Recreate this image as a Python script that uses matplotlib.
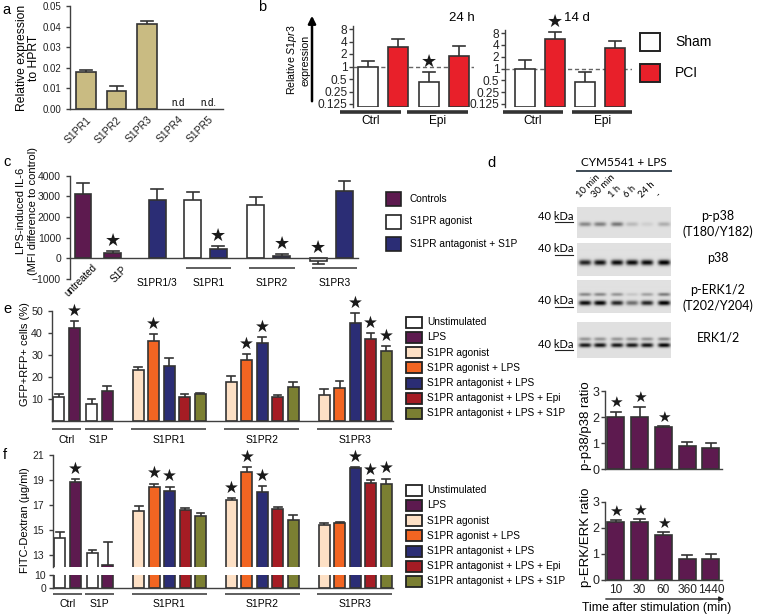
import numpy as np
import matplotlib
matplotlib.use("Agg")
import matplotlib.pyplot as plt
import matplotlib.transforms as mtransforms
from matplotlib.patches import Rectangle, FancyArrowPatch
from matplotlib.lines import Line2D

plt.rcParams['font.family'] = ['Liberation Sans', 'DejaVu Sans']
plt.rcParams['mathtext.fontset'] = 'custom'
plt.rcParams['mathtext.rm'] = 'Liberation Sans'
plt.rcParams['mathtext.it'] = 'Liberation Sans:italic'

# ---------------- data ----------------
# a : receptor expression
a_receptors = ["S1PR1", "S1PR2", "S1PR3", "S1PR4", "S1PR5"]
a_expr = [0.018, 0.0088, 0.0415]
a_err = [0.0008, 0.0022, 0.0012]
a_nd = ["n.d", "n.d."]

# b : S1pr3 expression (order: Ctrl sham, Ctrl PCI, Epi sham, Epi PCI)
b_groups = ["Ctrl", "Epi"]
b_24h = [1.0, 3.0, 0.42, 1.75]
b_24h_err = [0.35, 1.6, 0.3, 1.35]
b_24h_stars = [2]
b_14d = [1.0, 5.6, 0.46, 3.3]
b_14d_err = [0.6, 2.7, 0.34, 1.8]
b_14d_stars = [1]
b_yticks = [0.125, 0.25, 0.5, 1, 2, 4, 8]
b_legend = ["Sham", "PCI"]

# c : LPS-induced IL-6
c_labels = ["untreated", "S1P", "S1PR1/3", "S1PR1", "S1PR2", "S1PR3"]
c_vals = [3100, 280, 2830, 2800, 430, 2560, 100, -150, 3280]
c_errs = [550, 80, 550, 400, 170, 420, 100, 130, 470]
c_kind = ["ctrl", "ctrl", "ant", "ago", "ant", "ago", "ant", "ago", "ant"]
c_stars = [1, 4, 6, 7]
c_legend = ["Controls", "S1PR agonist", "S1PR antagonist + S1P"]

# e / f : treatment groups
ef_groups = ["Ctrl", "S1P", "S1PR1", "S1PR2", "S1PR3"]
ef_legend = ["Unstimulated", "LPS", "S1PR agonist", "S1PR agonist + LPS",
             "S1PR antagonist + LPS", "S1PR antagonist + LPS + Epi",
             "S1PR antagonist + LPS + S1P"]
ef_kind = [0, 1, 0, 1] + [2, 3, 4, 5, 6] * 3

e_vals = [11.0, 42.3, 7.6, 13.6,
          23.1, 36.1, 25.0, 10.8, 12.1,
          17.8, 27.7, 35.5, 10.8, 15.3,
          11.8, 14.8, 44.3, 37.3, 31.7]
e_errs = [1.2, 3.0, 2.4, 2.4,
          1.5, 3.2, 3.7, 1.3, 0.5,
          2.8, 2.7, 2.4, 1.0, 2.5,
          2.7, 3.4, 4.5, 2.4, 2.3]
e_stars = [1, 5, 10, 11, 16, 17, 18]

f_vals = [14.3, 18.8, 13.15, 12.2,
          16.5, 18.4, 18.1, 16.6, 16.1,
          17.4, 19.6, 18.0, 16.7, 15.8,
          15.4, 15.5, 19.95, 18.75, 18.7]
f_errs = [0.5, 0.25, 0.25, 1.8,
          0.4, 0.3, 0.35, 0.15, 0.25,
          0.15, 0.45, 0.5, 0.1, 0.35,
          0.1, 0.15, 0.05, 0.25, 0.4]
f_stars = [1, 5, 6, 9, 10, 11, 16, 17, 18]

# d : western blot band intensities per lane and quantification
d_lanes = ["10 min", "30 min", "1 h", "6 h", "24 h", "-"]
pp38_band = [0.35, 0.38, 0.42, 0.15, 0.07, 0.2]
p38_band = [0.75, 0.82, 0.85, 0.85, 0.85, 0.9]
perk_upper = [0.35, 0.35, 0.3, 0.1, 0.25, 0.4]
perk_lower = [0.85, 0.88, 0.75, 0.45, 0.75, 0.9]
erk_upper = [0.3, 0.3, 0.3, 0.3, 0.3, 0.35]
erk_lower = [0.8, 0.82, 0.8, 0.8, 0.82, 0.88]
time_labels = ["10", "30", "60", "360", "1440"]
pp38_ratio = [2.0, 2.0, 1.6, 0.9, 0.8]
pp38_err = [0.2, 0.4, 0.06, 0.15, 0.2]
perk_ratio = [2.22, 2.22, 1.75, 0.8, 0.8]
perk_err = [0.08, 0.12, 0.1, 0.15, 0.2]
ratio_stars = [0, 1, 2]

# ---------------- style ----------------
EDGE = "#333333"
SPINE = "#404040"
TAN = "#c9bb82"
RED = "#e8202a"
PURPLE = "#5d1a4f"
BLUE = "#2b2d75"
ef_colors = ["white", PURPLE, "#fde0c5", "#f26522", BLUE, "#a51c24", "#7b7f32"]
c_colors = {"ctrl": PURPLE, "ago": "white", "ant": BLUE}

W, H = 764, 615
fig = plt.figure(figsize=(W / 100, H / 100), dpi=100)
px = mtransforms.Affine2D().scale(1.0 / W, -1.0 / H).translate(0, 1) + fig.transFigure


def px_axes(l, t, r, b):
    ax = fig.add_axes([l / W, 1 - b / H, (r - l) / W, (b - t) / H])
    for s in ["top", "right"]:
        ax.spines[s].set_visible(False)
    for s in ["left", "bottom"]:
        ax.spines[s].set_color(SPINE)
        ax.spines[s].set_linewidth(1)
    ax.tick_params(colors=SPINE, labelcolor="#222222", length=3, width=1)
    ax.patch.set_alpha(0)
    return ax


def xpx(ax):
    return mtransforms.blended_transform_factory(ax.transData, px)


def ftext(x, y, s, **kw):
    fig.text(x, y, s, transform=px, **kw)


def bars(ax, xs, vals, errs, colors, width, cap, stars=(), star_fs=12, bottom=0, lw=1.2):
    ax.bar(xs, [v - bottom for v in vals], width, bottom=bottom, color=colors,
           edgecolor=EDGE, linewidth=lw, zorder=2)
    for x, v, e in zip(xs, vals, errs):
        end = v + e if v >= 0 else v - e
        ax.plot([x, x], [v, end], color=EDGE, lw=lw, zorder=3, solid_capstyle="butt")
        ax.plot([x - cap, x + cap], [end, end], color=EDGE, lw=lw, zorder=3)
    for i in stars:
        top = vals[i] + errs[i] if vals[i] >= 0 else 0
        ax.annotate("\u2605", (xs[i], top), xytext=(0, 1), textcoords="offset points",
                    ha="center", va="bottom", fontsize=star_fs, color="#1a1a1a",
                    family="DejaVu Sans", annotation_clip=False)


def underline(ax, x0, x1, y, lw=1.2, color=EDGE):
    ax.plot([x0, x1], [y, y], transform=xpx(ax), color=color, lw=lw, clip_on=False,
            solid_capstyle="butt")


# ---------------- panel a ----------------
ax = px_axes(70, 6, 223, 109)
xa = np.arange(len(a_receptors))
bars(ax, xa[:3], a_expr, a_err, TAN, 0.65, 0.2)
ax.set_xlim(-0.52, 4.48)
ax.set_ylim(0, 0.05)
ax.set_yticks([0, 0.01, 0.02, 0.03, 0.04, 0.05])
ax.set_yticklabels(["0.00", "0.01", "0.02", "0.03", "0.04", "0.05"], fontsize=7)
ax.set_xticks(xa)
ax.set_xticklabels(a_receptors, rotation=45, ha="right", rotation_mode="anchor", fontsize=7.5)
ax.tick_params(axis="x", length=0, pad=4)
for x, s in zip(xa[3:], a_nd):
    ax.text(x, 0.0007, s, ha="center", va="bottom", fontsize=7)
ftext(28, 58, "Relative expression\nto HPRT", rotation=90, ha="center", va="center",
      fontsize=8.7, linespacing=1.1)
ftext(2, 10, "a", fontsize=10.5, va="center")

# ---------------- panel b ----------------
b_cols = ["white", RED, "white", RED]
for (l, t, r, first, per, data, errs, stars, title, tx, ux) in [
        (353, 26, 474, 368, 30.3, b_24h, b_24h_err, b_24h_stars, "24 h", 462,
         [(-0.92, 1.09), (1.29, 3.3)]),
        (505, 30, 632, 525, 30.0, b_14d, b_14d_err, b_14d_stars, "14 d", 577,
         [(-0.73, 1.27), (1.57, 3.57)])]:
    ax = px_axes(l, t, r, 107)
    ax.spines["bottom"].set_visible(False)
    ax.set_yscale("log", base=2)
    step = (104 - (t + 3)) / 6.0
    lo = 0.125 * 2 ** (-3 / step)
    hi = 8 * 2 ** (3 / step)
    ax.set_ylim(lo, hi)
    xb = np.arange(4)
    ax.axhline(1, color="#666666", lw=1, ls=(0, (3, 2)), zorder=1)
    bars(ax, xb, data, errs, b_cols, 0.66, 0.2, stars=stars, star_fs=13, bottom=lo)
    ax.set_xlim(-(first - l) / per, (r - first) / per)
    ax.set_xticks([])
    ax.set_yticks(b_yticks)
    ax.set_yticklabels(["0.125", "0.25", "0.5", "1", "2", "4", "8"], fontsize=8.6)
    ax.yaxis.set_minor_locator(matplotlib.ticker.NullLocator())
    ax.tick_params(axis="y", pad=1)
    for (x0, x1), g in zip(ux, b_groups):
        underline(ax, x0, x1, 112, lw=2.6)
        ax.text((x0 + x1) / 2, 121, g, transform=xpx(ax), ha="center", va="center", fontsize=8.6)
    ftext(tx, 18, title, ha="center", va="center", fontsize=9.5)

fig.add_artist(FancyArrowPatch((312 / W, 1 - 104 / H), (312 / W, 1 - 13 / H),
                               transform=fig.transFigure, arrowstyle="-|>",
                               mutation_scale=11, lw=1.8, color="black"))
ftext(298, 60, "Relative $\\it{S1pr3}$\nexpression", rotation=90, ha="center", va="center",
      fontsize=7.6, linespacing=1.15)
ftext(258, 7, "b", fontsize=10.5, va="center")
for i, (lab, col) in enumerate(zip(b_legend, ["white", RED])):
    fig.add_artist(Rectangle((640, 33 + 31 * i), 20, 18, transform=px, facecolor=col,
                             edgecolor="#222222", lw=1.4))
    ftext(675, 42 + 31 * i, lab, va="center", fontsize=10)

# ---------------- panel c ----------------
ax = px_axes(70, 175.7, 358, 279)
c_pos = [0.5, 1.65, 3.35, 4.73, 5.7, 7.15, 8.15, 9.55, 10.55]
bars(ax, c_pos, c_vals, c_errs, [c_colors[k] for k in c_kind], 0.65, 0.22,
     stars=c_stars, star_fs=13)
ax.set_xlim(0, 11.08)
ax.set_ylim(-1000, 4000)
ax.spines["bottom"].set_position(("data", 0))
ax.set_xticks([])
ax.set_yticks([-1000, 0, 1000, 2000, 3000, 4000])
ax.tick_params(axis="y", labelsize=7.5)
ax.text(c_pos[0] + 0.35, 262, c_labels[0], transform=xpx(ax), rotation=45, ha="right",
        va="top", rotation_mode="anchor", fontsize=7)
ax.text(c_pos[1] + 0.35, 264, c_labels[1], transform=xpx(ax), rotation=45, ha="right",
        va="top", rotation_mode="anchor", fontsize=7)
ax.text(c_pos[2], 283, c_labels[2], transform=xpx(ax), ha="center", va="center", fontsize=7.3)
for k, lab in enumerate(c_labels[3:]):
    x0, x1 = c_pos[3 + 2 * k] - 0.25, c_pos[4 + 2 * k] + 0.5
    underline(ax, x0, x1, 268, lw=1.1)
    ax.text((x0 + x1) / 2, 283, lab, transform=xpx(ax), ha="center", va="center", fontsize=7.3)
ftext(27, 211, "LPS-induced IL-6\n(MFI difference to control)", rotation=90, ha="center",
      va="center", fontsize=8, linespacing=1.15)
ftext(3, 162, "c", fontsize=10.5, va="center")
for i, (lab, col) in enumerate(zip(c_legend, [PURPLE, "white", BLUE])):
    fig.add_artist(Rectangle((386, 192 + 22.5 * i), 15, 14, transform=px, facecolor=col,
                             edgecolor="#222222", lw=1.2))
    ftext(410, 199 + 22.5 * i, lab, va="center", fontsize=7.3)

# ---------------- panels e and f ----------------
ef_pos = [0, 1, 2.1, 3.1] + [5.1 + i for i in range(5)] + [11.1 + i for i in range(5)] \
    + [17.1 + i for i in range(5)]
ef_spans = [(0, 1), (2, 3), (4, 8), (9, 13), (14, 18)]
ef_cols = [ef_colors[k] for k in ef_kind]


def group_labels(ax, yline, ytext):
    for (i0, i1), g in zip(ef_spans, ef_groups):
        x0, x1 = ef_pos[i0] - 0.45, ef_pos[i1] + 0.4
        underline(ax, x0, x1, yline, lw=1.1)
        ax.text((x0 + x1) / 2, ytext, g, transform=xpx(ax), ha="center", va="center",
                fontsize=7.5)


def ef_legend_box(y0):
    for i, (lab, col) in enumerate(zip(ef_legend, ef_colors)):
        fig.add_artist(Rectangle((406, y0 - 5.5 + 15.25 * i), 16, 11, transform=px,
                                 facecolor=col, edgecolor="#222222", lw=1.3))
        ftext(427, y0 + 15.25 * i, lab, va="center", fontsize=7.3)


ax = px_axes(52, 310.7, 393, 421)
bars(ax, ef_pos, e_vals, e_errs, ef_cols, 0.71, 0.25, stars=e_stars, star_fs=12)
ax.set_xlim(-0.45, 21.55)
ax.set_ylim(0, 50)
ax.set_xticks([])
ax.set_yticks([10, 20, 30, 40, 50])
ax.tick_params(axis="y", labelsize=7.7)
group_labels(ax, 429, 440)
ftext(25, 354, "GFP+RFP+ cells (%)", rotation=90, ha="center", va="center", fontsize=8)
ftext(3, 309, "e", fontsize=10.5, va="center")
ef_legend_box(322)

ax_up = px_axes(53, 455, 393, 567)
ax_lo = px_axes(53, 575, 393, 587.7)
for axx in (ax_up, ax_lo):
    bars(axx, ef_pos, f_vals, f_errs, ef_cols, 0.71, 0.25,
         stars=f_stars if axx is ax_up else (), star_fs=12)
    axx.set_xlim(-0.45, 21.55)
    axx.set_xticks([])
    axx.tick_params(axis="y", labelsize=7.5)
ax_up.spines["bottom"].set_visible(False)
ax_up.set_ylim(12, 21)
ax_up.set_yticks([13, 15, 17, 19, 21])
ax_lo.set_ylim(0, 10)
ax_lo.set_yticks([0, 10])
ax_lo.tick_params(axis="y", pad=2)
group_labels(ax_lo, 594, 604)
ftext(25, 520, "FITC-Dextran (\u00b5g/ml)", rotation=90, ha="center", va="center", fontsize=8)
ftext(3, 455, "f", fontsize=10.5, va="center")
ef_legend_box(490)

# ---------------- panel d : blots ----------------
blot_l, blot_r = 577, 671
lane_px = [585, 600, 617, 632, 647, 664]
lane_x = [(p - blot_l) / (blot_r - blot_l) for p in lane_px]


def blot(t, b, bands):
    ax = fig.add_axes([blot_l / W, 1 - b / H, (blot_r - blot_l) / W, (b - t) / H])
    h, w = int((b - t) * 4), int((blot_r - blot_l) * 4)
    yy, xx = np.mgrid[0:h, 0:w]
    yy = yy / h
    xx = xx / w
    img = np.full((h, w), 0.88)
    for yc, th, ints in bands:
        for xc, it in zip(lane_x, ints):
            img -= it * np.exp(-((xx - xc) / 0.065) ** 4) * np.exp(-((yy - yc) / th) ** 2)
    ax.imshow(np.clip(img, 0, 1), cmap="gray", vmin=0, vmax=1, aspect="auto",
              extent=[0, 1, 1, 0], interpolation="bilinear")
    ax.axis("off")


blot(207, 238, [(0.55, 0.07, pp38_band)])
blot(243, 276, [(0.6, 0.08, p38_band)])
blot(280, 313, [(0.45, 0.05, perk_upper), (0.70, 0.07, perk_lower)])
blot(322, 358, [(0.47, 0.05, erk_upper), (0.64, 0.06, erk_lower)])

BF = ["Lato", "DejaVu Sans"]
ftext(487, 163, "d", fontsize=10.5, va="center")
ftext(624, 162, "CYM5541 + LPS", ha="center", va="center", fontsize=8.5, family=BF)
fig.add_artist(Line2D([577 / W, 671 / W], [1 - 170.5 / H] * 2, transform=fig.transFigure,
                      color="#3d4a55", lw=1.4))
for x, lab in zip(lane_px, d_lanes):
    ftext(x - 4, 199, lab, rotation=45, ha="left", va="bottom", rotation_mode="anchor",
          fontsize=6.8, family=BF)
for y in [216, 249, 301, 344]:
    ftext(573, y, "40 kDa", ha="right", va="center", fontsize=8, family=BF)
    fig.add_artist(Line2D([555 / W, 573 / W], [1 - (y + 6) / H] * 2, transform=fig.transFigure,
                          color="#222222", lw=0.8))
for y, lab in [(224, "p-p38\n(T180/Y182)"), (258, "p38"), (298, "p-ERK1/2\n(T202/Y204)"),
               (338, "ERK1/2")]:
    ftext(718, y, lab, ha="center", va="center", fontsize=9, family=BF, linespacing=1.25)

# ---------------- panel d : quantification ----------------
xr = np.arange(len(time_labels))
for (t, b, vals, errs, ylab, yc) in [(391, 469, pp38_ratio, pp38_err, "p-p38/p38 ratio", 426),
                                     (502, 580, perk_ratio, perk_err, "p-ERK/ERK ratio", 537)]:
    ax = px_axes(605, t, 722, b)
    bars(ax, xr, vals, errs, PURPLE, 0.72, 0.22, stars=ratio_stars, star_fs=11)
    ax.set_xlim(-0.46, 4.47)
    ax.set_ylim(0, 3)
    ax.set_yticks([0, 1, 2, 3])
    ax.tick_params(axis="y", labelsize=9, pad=1)
    ax.tick_params(axis="x", length=0)
    ax.set_xticks(xr)
    if b == 580:
        ax.set_xticklabels(time_labels, fontsize=8.6)
        ax.tick_params(axis="x", pad=3)
    else:
        ax.set_xticklabels([])
    ftext(586, yc, ylab, rotation=90, ha="center", va="center", fontsize=9.5)

fig.add_artist(FancyArrowPatch((603 / W, 1 - 599 / H), (727 / W, 1 - 599 / H),
                               transform=fig.transFigure, arrowstyle="-|>",
                               mutation_scale=7, lw=1, color="#222222"))
ftext(657, 608, "Time after stimulation (min)", ha="center", va="center", fontsize=8.8)

fig.savefig("out.png", dpi=100)
